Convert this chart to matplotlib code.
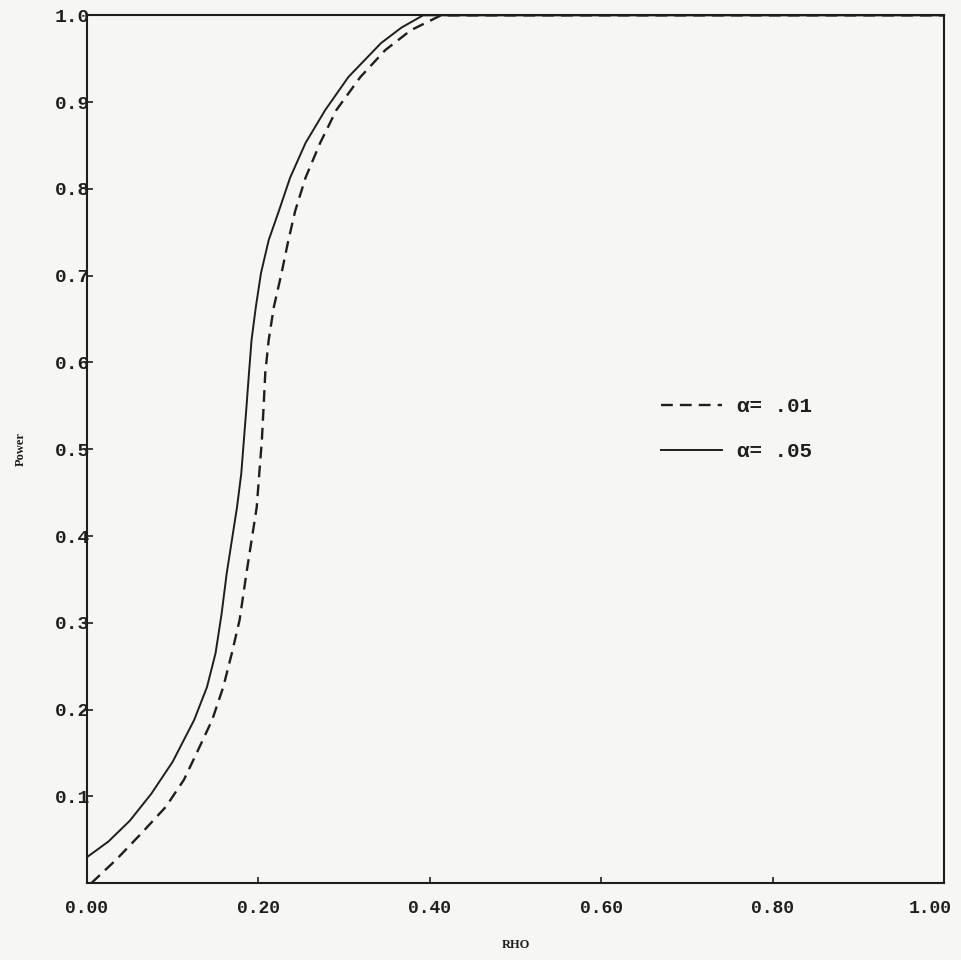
import matplotlib.pyplot as plt
from matplotlib.transforms import ScaledTranslation

rho_05 = [0.0, 0.025, 0.050, 0.075, 0.100, 0.125, 0.140, 0.150, 0.157, 0.163,
          0.169, 0.175, 0.180, 0.183, 0.186, 0.189, 0.192, 0.197, 0.203, 0.212,
          0.224, 0.237, 0.255, 0.278, 0.305, 0.343, 0.367, 0.392, 1.0]
power_05 = [0.030, 0.048, 0.072, 0.103, 0.140, 0.188, 0.226, 0.265, 0.310, 0.357,
            0.395, 0.433, 0.472, 0.510, 0.548, 0.588, 0.626, 0.664, 0.703, 0.741,
            0.775, 0.813, 0.853, 0.891, 0.929, 0.968, 0.986, 1.0, 1.0]

rho_01 = [0.005, 0.034, 0.064, 0.092, 0.113, 0.128, 0.146, 0.159, 0.169, 0.178,
          0.186, 0.192, 0.198, 0.201, 0.204, 0.206, 0.208, 0.212, 0.218, 0.227,
          0.235, 0.243, 0.255, 0.272, 0.291, 0.319, 0.348, 0.378, 0.413, 1.0]
power_01 = [0.0, 0.027, 0.058, 0.088, 0.119, 0.150, 0.188, 0.226, 0.265, 0.303,
            0.357, 0.395, 0.433, 0.472, 0.510, 0.548, 0.588, 0.626, 0.664, 0.703,
            0.741, 0.775, 0.813, 0.853, 0.891, 0.929, 0.960, 0.983, 1.0, 1.0]

x_ticks = [0.0, 0.2, 0.4, 0.6, 0.8, 1.0]
x_labels = ["0.00", "0.20", "0.40", "0.60", "0.80", "1.00"]
y_ticks = [0.1, 0.2, 0.3, 0.4, 0.5, 0.6, 0.7, 0.8, 0.9, 1.0]
y_labels = ["0.1", "0.2", "0.3", "0.4", "0.5", "0.6", "0.7", "0.8", "0.9", "1.0"]

paper = "#f6f6f4"
ink = "#1e1e1e"

fig = plt.figure(figsize=(9.61, 9.60), dpi=100, facecolor=paper)
ax = fig.add_axes([0.0905, 0.080, 0.892, 0.904])
ax.set_facecolor(paper)

ax.plot(rho_01, power_01, color=ink, lw=1.7, dashes=(5, 3), label="α= .01")
ax.plot(rho_05, power_05, color=ink, lw=1.4, label="α= .05")

ax.set_xlim(0, 1.0)
ax.set_ylim(0, 1.0)

ax.set_xticks(x_ticks)
ax.set_xticklabels(x_labels, family="Liberation Mono", weight="bold", size=13)
ax.set_yticks(y_ticks)
ax.set_yticklabels(y_labels, family="Liberation Mono", weight="bold", size=14)
ax.tick_params(axis="x", direction="in", length=4, width=1.2, pad=12, colors=ink)
ax.tick_params(axis="y", direction="in", length=4, width=1.2, pad=-2, colors=ink)

# pull the last x label back inside the page
last = ax.get_xticklabels()[-1]
last.set_transform(last.get_transform() + ScaledTranslation(-10 / 72, 0, fig.dpi_scale_trans))

for side in ax.spines.values():
    side.set_linewidth(1.5)
    side.set_color(ink)

ax.set_xlabel("RHO", family="Liberation Serif", fontsize=9, fontweight="bold",
              color=ink, labelpad=16)
ax.set_ylabel("Power", family="Liberation Serif", fontsize=9, fontweight="bold",
              color=ink, labelpad=20)

leg = ax.legend(loc="upper left", bbox_to_anchor=(0.670, 0.560), frameon=False,
                prop={"family": "Liberation Mono", "weight": "bold", "size": 15},
                handlelength=2.9, handletextpad=0.75, labelspacing=1.25,
                borderpad=0, borderaxespad=0)
for t in leg.get_texts():
    t.set_color(ink)

fig.savefig("out.png", dpi=100, facecolor=paper)
